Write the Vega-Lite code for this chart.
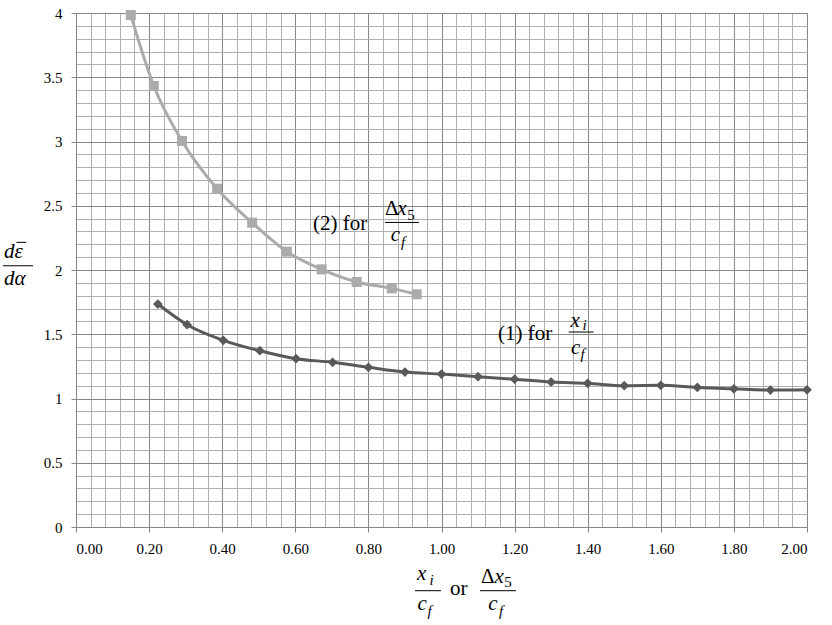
{
  "$schema": "https://vega.github.io/schema/vega-lite/v6.json",
  "width": 731,
  "height": 514,
  "autosize": {"type": "none"},
  "padding": {"left": 76, "top": 13, "right": 25, "bottom": 98},
  "background": "white",
  "config": {
    "view": {"stroke": null},
    "font": "'Liberation Serif', 'Times New Roman', serif",
    "style": {"guide-label": {"font": "'Liberation Serif', 'Times New Roman', serif", "fontSize": 15, "fill": "#000000"}},
    "axis": {
      "labelColor": "#000000",
      "labelFont": "'Liberation Serif', 'Times New Roman', serif",
      "domainColor": "#868686",
      "tickColor": "#868686",
      "tickSize": 5,
      "title": null,
      "labelOverlap": false
    }
  },
  "datasets": {
    "curves": [
      {"series": "(1)", "x": 0.224, "y": 1.735},
      {"series": "(1)", "x": 0.304, "y": 1.574},
      {"series": "(1)", "x": 0.403, "y": 1.453},
      {"series": "(1)", "x": 0.503, "y": 1.372},
      {"series": "(1)", "x": 0.602, "y": 1.31},
      {"series": "(1)", "x": 0.702, "y": 1.282},
      {"series": "(1)", "x": 0.8, "y": 1.243},
      {"series": "(1)", "x": 0.9, "y": 1.206},
      {"series": "(1)", "x": 1.0, "y": 1.19},
      {"series": "(1)", "x": 1.1, "y": 1.17},
      {"series": "(1)", "x": 1.2, "y": 1.15},
      {"series": "(1)", "x": 1.3, "y": 1.128},
      {"series": "(1)", "x": 1.4, "y": 1.118},
      {"series": "(1)", "x": 1.5, "y": 1.1},
      {"series": "(1)", "x": 1.6, "y": 1.103},
      {"series": "(1)", "x": 1.7, "y": 1.086},
      {"series": "(1)", "x": 1.8, "y": 1.075},
      {"series": "(1)", "x": 1.9, "y": 1.066},
      {"series": "(1)", "x": 2.0, "y": 1.068},
      {"series": "(2)", "x": 0.150, "y": 3.984},
      {"series": "(2)", "x": 0.213, "y": 3.432},
      {"series": "(2)", "x": 0.290, "y": 3.004},
      {"series": "(2)", "x": 0.386, "y": 2.633},
      {"series": "(2)", "x": 0.482, "y": 2.368},
      {"series": "(2)", "x": 0.577, "y": 2.143},
      {"series": "(2)", "x": 0.672, "y": 2.005},
      {"series": "(2)", "x": 0.768, "y": 1.907},
      {"series": "(2)", "x": 0.864, "y": 1.857},
      {"series": "(2)", "x": 0.932, "y": 1.811}
    ],
    "labels": [
      {"role": "roman", "text": "(2) for", "x": 0.6484, "y": 2.312},
      {"role": "roman", "text": "Δ", "x": 0.8454, "y": 2.428},
      {"role": "italic", "text": "x", "x": 0.879, "y": 2.428},
      {"role": "sub", "text": "5", "x": 0.906, "y": 2.39},
      {"role": "italic", "text": "c", "x": 0.861, "y": 2.225},
      {"role": "subit", "text": "f", "x": 0.889, "y": 2.18},
      {"role": "roman", "text": "(1) for", "x": 1.1546, "y": 1.455},
      {"role": "italic", "text": "x", "x": 1.353, "y": 1.56},
      {"role": "subit", "text": "i", "x": 1.386, "y": 1.53},
      {"role": "italic", "text": "c", "x": 1.354, "y": 1.35},
      {"role": "subit", "text": "f", "x": 1.38, "y": 1.305},
      {"role": "italic", "text": "x", "x": 0.933, "y": -0.412},
      {"role": "subit", "text": "i", "x": 0.967, "y": -0.448},
      {"role": "italic", "text": "c", "x": 0.934, "y": -0.645},
      {"role": "subit", "text": "f", "x": 0.962, "y": -0.69},
      {"role": "roman", "text": "or", "x": 1.023, "y": -0.53},
      {"role": "roman", "text": "Δ", "x": 1.1078, "y": -0.435},
      {"role": "italic", "text": "x", "x": 1.145, "y": -0.435},
      {"role": "sub", "text": "5", "x": 1.172, "y": -0.47},
      {"role": "italic", "text": "c", "x": 1.128, "y": -0.645},
      {"role": "subit", "text": "f", "x": 1.157, "y": -0.69},
      {"role": "italic", "text": "dε", "x": -0.197, "y": 2.093},
      {"role": "italic", "text": "dα", "x": -0.197, "y": 1.883}
    ],
    "bars": [
      {"x": 0.8454, "x2": 0.9384, "y": 2.37},
      {"x": 1.348, "x2": 1.416, "y": 1.5175},
      {"x": 0.9275, "x2": 0.9986, "y": -0.4957},
      {"x": 1.1051, "x2": 1.2037, "y": -0.4957},
      {"x": -0.1997, "x2": -0.1176, "y": 2.033},
      {"x": -0.163, "x2": -0.136, "y": 2.215}
    ]
  },
  "layer": [
    {
      "data": {"name": "curves"},
      "mark": {"type": "line", "interpolate": "monotone", "strokeWidth": 3},
      "encoding": {
        "x": {
          "field": "x", "type": "quantitative",
          "scale": {"domain": [0, 2], "nice": false, "zero": false},
          "axis": {
            "values": [0,0.04,0.08,0.12,0.16,0.2,0.24,0.28,0.32,0.36,0.4,0.44,0.48,0.52,0.56,0.6,0.64,0.68,0.72,0.76,0.8,0.84,0.88,0.92,0.96,1,1.04,1.08,1.12,1.16,1.2,1.24,1.28,1.32,1.36,1.4,1.44,1.48,1.52,1.56,1.6,1.64,1.68,1.72,1.76,1.8,1.84,1.88,1.92,1.96,2],
            "tickCount": 100,
            "grid": true,
            "gridColor": {"condition": {"test": "abs(datum.value*5 - round(datum.value*5)) < 0.000001", "value": "#868686"}, "value": "#b0b0b0"},
            "gridWidth": 1,
            "tickOpacity": {"condition": {"test": "abs(datum.value*5 - round(datum.value*5)) < 0.000001", "value": 1}, "value": 0},
            "labelExpr": "abs(datum.value*5 - round(datum.value*5)) < 0.000001 ? format(datum.value, '.2f') : ''",
            "labelFont": {"condition": {"test": "true", "value": "'Liberation Serif', serif"}, "value": "'Liberation Serif', serif"},
            "labelFontSize": 15,
            "labelPadding": 9
          }
        },
        "y": {
          "field": "y", "type": "quantitative",
          "scale": {"domain": [0, 4], "nice": false, "zero": false},
          "axis": {
            "values": [0,0.1,0.2,0.3,0.4,0.5,0.6,0.7,0.8,0.9,1,1.1,1.2,1.3,1.4,1.5,1.6,1.7,1.8,1.9,2,2.1,2.2,2.3,2.4,2.5,2.6,2.7,2.8,2.9,3,3.1,3.2,3.3,3.4,3.5,3.6,3.7,3.8,3.9,4],
            "tickCount": 100,
            "grid": true,
            "gridColor": {"condition": {"test": "abs(datum.value*2 - round(datum.value*2)) < 0.000001", "value": "#868686"}, "value": "#b0b0b0"},
            "gridWidth": 1,
            "tickOpacity": {"condition": {"test": "abs(datum.value*2 - round(datum.value*2)) < 0.000001", "value": 1}, "value": 0},
            "labelExpr": "abs(datum.value*2 - round(datum.value*2)) < 0.000001 ? format(datum.value, '') : ''",
            "labelFont": {"condition": {"test": "true", "value": "'Liberation Serif', serif"}, "value": "'Liberation Serif', serif"},
            "labelFontSize": 15,
            "labelPadding": 9
          }
        },
        "color": {"field": "series", "type": "nominal", "scale": {"domain": ["(1)", "(2)"], "range": ["#595959", "#ababab"]}, "legend": null}
      }
    },
    {
      "data": {"name": "curves"},
      "mark": {"type": "point", "filled": true, "opacity": 1},
      "encoding": {
        "x": {"field": "x", "type": "quantitative", "scale": {"domain": [0, 2], "nice": false, "zero": false}},
        "y": {"field": "y", "type": "quantitative", "scale": {"domain": [0, 4], "nice": false, "zero": false}},
        "color": {"field": "series", "type": "nominal", "scale": {"domain": ["(1)", "(2)"], "range": ["#595959", "#ababab"]}, "legend": null},
        "shape": {"field": "series", "type": "nominal", "scale": {"domain": ["(1)", "(2)"], "range": ["diamond", "square"]}, "legend": null},
        "size": {"field": "series", "type": "nominal", "scale": {"domain": ["(1)", "(2)"], "range": [95, 100]}, "legend": null}
      }
    },
    {
      "data": {"name": "bars"},
      "mark": {"type": "rule", "color": "#000000", "strokeWidth": 1},
      "encoding": {
        "x": {"field": "x", "type": "quantitative", "scale": {"domain": [0, 2], "nice": false, "zero": false}},
        "x2": {"field": "x2"},
        "y": {"field": "y", "type": "quantitative", "scale": {"domain": [0, 4], "nice": false, "zero": false}}
      }
    },
    {
      "data": {"name": "labels"},
      "transform": [{"filter": "datum.role == 'roman'"}],
      "mark": {"type": "text", "align": "left", "baseline": "alphabetic", "font": "'Liberation Serif', 'Times New Roman', serif", "fontSize": 21, "color": "#000000"},
      "encoding": {
        "x": {"field": "x", "type": "quantitative", "scale": {"domain": [0, 2], "nice": false, "zero": false}},
        "y": {"field": "y", "type": "quantitative", "scale": {"domain": [0, 4], "nice": false, "zero": false}},
        "text": {"field": "text"}
      }
    },
    {
      "data": {"name": "labels"},
      "transform": [{"filter": "datum.role == 'italic'"}],
      "mark": {"type": "text", "align": "left", "baseline": "alphabetic", "font": "'Liberation Serif', 'Times New Roman', serif", "fontStyle": "italic", "fontSize": 21, "color": "#000000"},
      "encoding": {
        "x": {"field": "x", "type": "quantitative", "scale": {"domain": [0, 2], "nice": false, "zero": false}},
        "y": {"field": "y", "type": "quantitative", "scale": {"domain": [0, 4], "nice": false, "zero": false}},
        "text": {"field": "text"}
      }
    },
    {
      "data": {"name": "labels"},
      "transform": [{"filter": "datum.role == 'sub'"}],
      "mark": {"type": "text", "align": "left", "baseline": "alphabetic", "font": "'Liberation Serif', 'Times New Roman', serif", "fontSize": 15, "color": "#000000"},
      "encoding": {
        "x": {"field": "x", "type": "quantitative", "scale": {"domain": [0, 2], "nice": false, "zero": false}},
        "y": {"field": "y", "type": "quantitative", "scale": {"domain": [0, 4], "nice": false, "zero": false}},
        "text": {"field": "text"}
      }
    },
    {
      "data": {"name": "labels"},
      "transform": [{"filter": "datum.role == 'subit'"}],
      "mark": {"type": "text", "align": "left", "baseline": "alphabetic", "font": "'Liberation Serif', 'Times New Roman', serif", "fontStyle": "italic", "fontSize": 15, "color": "#000000"},
      "encoding": {
        "x": {"field": "x", "type": "quantitative", "scale": {"domain": [0, 2], "nice": false, "zero": false}},
        "y": {"field": "y", "type": "quantitative", "scale": {"domain": [0, 4], "nice": false, "zero": false}},
        "text": {"field": "text"}
      }
    }
  ]
}
